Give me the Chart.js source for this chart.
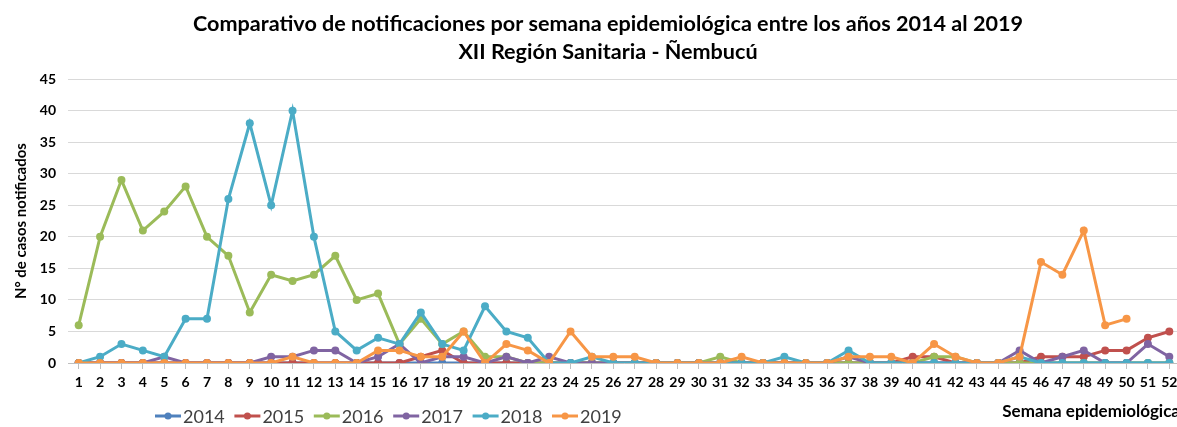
<!DOCTYPE html>
<html>
<head>
<meta charset="utf-8">
<script src="https://cdn.jsdelivr.net/npm/chart.js@4/dist/chart.umd.min.js"></script>
<style>
  body { margin: 0; overflow: hidden; background: #fff; }
  #wrap { width: 1216px; height: 427px; }
</style>
</head>
<body>
<div id="wrap"><canvas id="lineChart"></canvas></div>
<script>
// semanas epidemiológicas 1..52
const weeks = Array.from({ length: 52 }, (_, i) => String(i + 1));
const years = ['2014', '2015', '2016', '2017', '2018', '2019'];
const yTicks = [0, 5, 10, 15, 20, 25, 30, 35, 40, 45];

const cases2014 = [0,0,0,0,0,0,0,0,0,0, 0,0,0,0,0,0,0,0,0,0, 0,0,0,0,0,0,0,0,0,0, 0,0,0,0,0,0,0,0,0,0, 0,0,0,0,0,0,0,0,0,0, 0,0];
const cases2015 = [0,0,0,0,0,0,0,0,0,0, 0,0,0,0,0,0,1,2,0,0, 0,0,0,0,0,0,0,0,0,0, 0,0,0,0,0,0,0,0,0,1, 1,0,0,0,0,1,1,1,2,2, 4,5];
const cases2016 = [6,20,29,21,24,28,20,17,8,14, 13,14,17,10,11,3,7,3,5,1, 1,0,0,0,0,0,0,0,0,0, 1,0,0,0,0,0,0,0,0,0, 1,1,0,0,0,0,0,0,0,0, 0,0];
const cases2017 = [0,0,0,0,1,0,0,0,0,1, 1,2,2,0,1,3,0,1,1,0, 1,0,1,0,0,0,0,0,0,0, 0,0,0,0,0,0,1,0,0,0, 0,0,0,0,2,0,1,2,0,0, 3,1];
const cases2018 = [0,1,3,2,1,7,7,26,38,25, 40,20,5,2,4,3,8,3,2,9, 5,4,0,0,1,0,0,0,0,0, 0,0,0,1,0,0,2,0,0,0, 0,0,0,0,1,0,0,0,0,0, 0,0];
const cases2019 = [0,0,0,0,0,0,0,0,0,0, 1,0,0,0,2,2,1,1,5,0, 3,2,0,5,1,1,1,0,0,0, 0,1,0,0,0,0,1,1,1,0, 3,1,0,0,1,16,14,21,6,7, null,null];

const seriesValues = [cases2014, cases2015, cases2016, cases2017, cases2018, cases2019];
const seriesColors = ['#4F81BD', '#C0504D', '#9BBB59', '#8064A2', '#4BACC6', '#F79646'];

const FONT = 'Lato, "Open Sans", sans-serif';

// leyenda dibujada a mano, en la misma fila que el título del eje X
const bottomLegend = {
    id: 'bottomLegend',
    afterDraw(chart) {
        const ctx = chart.ctx;
        const y = 416;
        ctx.save();
        chart.data.datasets.forEach((ds, i) => {
            const x = 155 + i * 79.4;
            ctx.strokeStyle = ds.borderColor;
            ctx.lineWidth = 3;
            ctx.beginPath();
            ctx.moveTo(x, y);
            ctx.lineTo(x + 26, y);
            ctx.stroke();
            ctx.fillStyle = ds.borderColor;
            ctx.beginPath();
            ctx.arc(x + 13, y, 3.5, 0, Math.PI * 2);
            ctx.fill();
            ctx.fillStyle = '#404040';
            ctx.font = '18px ' + FONT;
            ctx.textBaseline = 'middle';
            ctx.textAlign = 'left';
            ctx.fillText(ds.label, x + 28, y + 1);
        });
        ctx.restore();
    }
};

const ctx = document.getElementById('lineChart').getContext('2d');
new Chart(ctx, {
    type: 'line',
    data: {
        labels: weeks,
        datasets: years.map((year, i) => ({
            label: year,
            data: seriesValues[i],
            borderColor: seriesColors[i],
            backgroundColor: seriesColors[i],
            borderWidth: 3,
            pointRadius: 4,
            pointHoverRadius: 4,
            pointBorderWidth: 0,
            tension: 0,
            order: years.length - i
        }))
    },
    options: {
        responsive: true,
        maintainAspectRatio: false,
        animation: false,
        layout: { padding: { left: 0, right: 0, top: 0, bottom: 4 } },
        plugins: {
            legend: { display: false },
            tooltip: { enabled: false },
            title: {
                display: true,
                text: ['Comparativo de notificaciones por semana epidemiológica entre los años 2014 al 2019',
                       'XII Región Sanitaria - Ñembucú'],
                color: '#000',
                font: { family: FONT, size: 21.6, weight: 'bold', lineHeight: 1.3 },
                padding: { top: 10, bottom: 13 }
            }
        },
        scales: {
            x: {
                offset: true,
                grid: {
                    display: true,
                    drawOnChartArea: false,
                    drawTicks: true,
                    tickLength: 6,
                    color: '#bfbfbf'
                },
                border: { display: true, color: '#bfbfbf', width: 1 },
                ticks: {
                    color: '#000',
                    font: { family: FONT, size: 14, weight: 'bold' },
                    maxRotation: 0,
                    autoSkip: false,
                    padding: 5
                },
                title: {
                    display: true,
                    text: 'Semana epidemiológica',
                    align: 'end',
                    color: '#000',
                    font: { family: FONT, size: 17, weight: 'bold' },
                    padding: { top: 0, bottom: 1 }
                },
                afterFit(scale) { scale.height = 60; }
            },
            y: {
                min: 0,
                max: 45,
                grid: { color: '#d9d9d9', drawTicks: false },
                border: { display: false },
                afterBuildTicks(scale) { scale.ticks = yTicks.map(v => ({ value: v })); },
                ticks: {
                    color: '#000',
                    font: { family: FONT, size: 14, weight: 'bold' },
                    padding: 12
                },
                title: {
                    display: true,
                    text: 'N° de casos notificados',
                    color: '#000',
                    font: { family: FONT, size: 15, weight: 'bold' },
                    padding: { top: 12, bottom: 0 }
                },
                afterFit(scale) { scale.width = 68; }
            },
            // eje vacío a la derecha: reserva el margen que el original recorta
            yRight: {
                position: 'right',
                min: 0,
                max: 45,
                grid: { drawOnChartArea: false, drawTicks: false },
                border: { display: false },
                ticks: { display: false },
                afterFit(scale) { scale.width = 36; }
            }
        }
    },
    plugins: [bottomLegend]
});
</script>
</body>
</html>
